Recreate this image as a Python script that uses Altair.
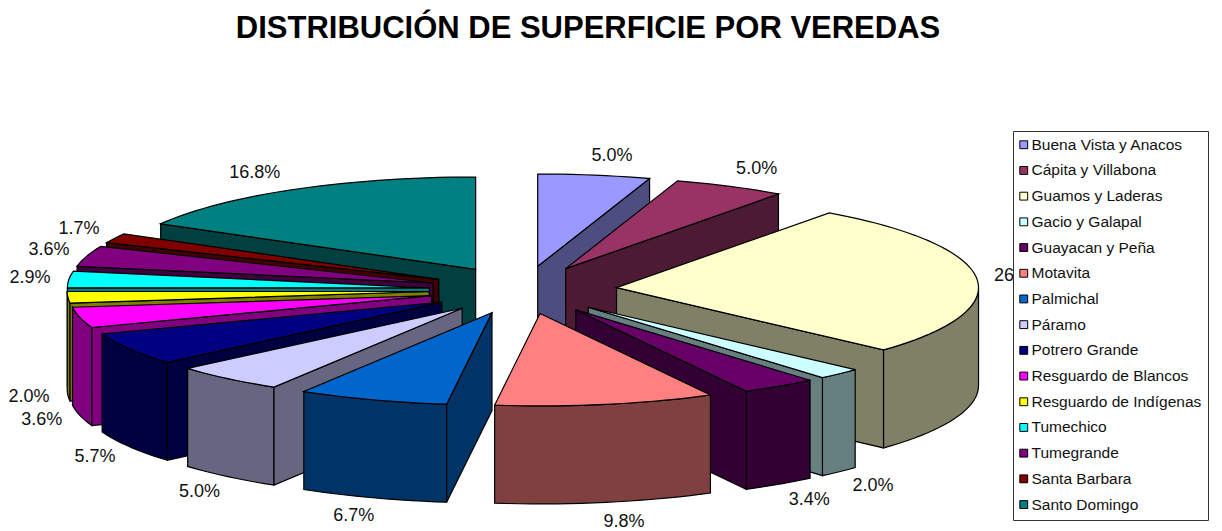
import math
import altair as alt
import pandas as pd

names = ["Buena Vista y Anacos", "Cápita y Villabona", "Guamos y Laderas", "Gacio y Galapal",
         "Guayacan y Peña", "Motavita", "Palmichal", "Páramo", "Potrero Grande",
         "Resguardo de Blancos", "Resguardo de Indígenas", "Tumechico", "Tumegrande",
         "Santa Barbara", "Santo Domingo"]
shares = [5.0, 5.0, 26.8, 2.0, 3.4, 9.8, 6.7, 5.0, 5.7, 3.6, 2.0, 2.9, 3.6, 1.7, 16.8]
top_colors = ["#9999FF", "#993366", "#FFFFCC", "#CCFFFF", "#660066", "#FF8080", "#0066CC", "#CCCCFF",
              "#000080", "#FF00FF", "#FFFF00", "#00FFFF", "#800080", "#800000", "#008080"]
side_colors = ["#4D4D80", "#4D1A33", "#808066", "#668080", "#330033", "#804040", "#003366", "#666680",
               "#000040", "#800080", "#808000", "#008080", "#400040", "#400000", "#004040"]
title_text = "DISTRIBUCIÓN DE SUPERFICIE POR VEREDAS"

# Projection of the exploded 3D pie (reference pixel space)
CX, CY, EXPLODE, R, TILT, H = 523, 290, 94, 362, 0.255, 98

def rad(a):
    return math.radians(a)

polys, labels = [], []
pid = 0
def add_poly(part, pts):
    global pid
    pid += 1
    for i, (x, y) in enumerate(pts):
        polys.append({"part": part, "poly": pid, "i": i, "x": x, "y": y})

slices = []
cum = 0.0
for n, s in zip(names, shares):
    a0, a1 = cum * 3.6, (cum + s) * 3.6
    cum += s
    slices.append((n, s, a0, a1, (a0 + a1) / 2))

def rim(ax, ay, a):
    return ax + R * math.sin(rad(a)), ay - R * TILT * math.cos(rad(a))

def arc_angles(a, b):
    steps = max(2, int((b - a) / 2) + 1)
    return [a + (b - a) * k / steps for k in range(steps + 1)]

for n, s, a0, a1, mid in sorted(slices, key=lambda t: -math.cos(rad(t[4]))):
    ax = CX + EXPLODE * math.sin(rad(mid))
    ay = CY - EXPLODE * TILT * math.cos(rad(mid))
    side = n + " (lado)"
    v0, v1 = max(a0, 90), min(a1, 270)
    if v1 > v0:
        arc = [rim(ax, ay, a) for a in arc_angles(v0, v1)]
        add_poly(side, arc + [(x, y + H) for x, y in reversed(arc)])
    if math.sin(rad(a0)) < 0:
        p = rim(ax, ay, a0)
        add_poly(side, [(ax, ay), p, (p[0], p[1] + H), (ax, ay + H)])
    if math.sin(rad(a1)) > 0:
        p = rim(ax, ay, a1)
        add_poly(side, [(ax, ay), p, (p[0], p[1] + H), (ax, ay + H)])
    add_poly(n, [(ax, ay)] + [rim(ax, ay, a) for a in arc_angles(a0, a1)])

    sn, cs = math.sin(rad(mid)), math.cos(rad(mid))
    lx = ax + (R + 30) * sn + (13 if sn > 0 else -9 - 55 * max(0, cs - 0.6))
    ly = ay - (R + 30) * TILT * cs + (H if cs < 0 else 0) - 12 * cs
    labels.append({"x": lx, "y": ly, "t": f"{s:.1f}%"})

domain = names + [n + " (lado)" for n in names]
color_range = top_colors + side_colors
X = alt.X("x:Q", scale=alt.Scale(domain=[8, 1214], nice=False, zero=False), axis=None)
Y = alt.Y("y:Q", scale=alt.Scale(domain=[531, 8], nice=False, zero=False), axis=None)
color_scale = alt.Scale(domain=domain, range=color_range)

legend = alt.Legend(
    values=names, orient="none", legendX=1005, legendY=123, title="",
    symbolType="square", symbolSize=62, symbolStrokeColor="black", symbolStrokeWidth=1,
    symbolOffset=-3, symbolOpacity=1, labelFont="Liberation Sans", labelFontSize=15.5, labelColor="#111111",
    labelLimit=300, rowPadding=8.7, strokeColor="#333333", fillColor="white",
    padding=6, zindex=1, labelOffset=0,
)

pie = alt.Chart(pd.DataFrame(polys)).mark_line(
    interpolate="linear-closed", stroke="black", strokeWidth=1.2, clip=False
).encode(
    x=X, y=Y, order="i:Q", detail="poly:N",
    fill=alt.Fill("part:N", scale=color_scale, legend=legend),
)

text = alt.Chart(pd.DataFrame(labels)).mark_text(
    font="Liberation Sans", fontSize=18, color="#111111", align="center", baseline="middle"
).encode(x=X, y=Y, text="t:N")

title = alt.Chart(pd.DataFrame({"x": [588], "y": [29], "t": [title_text]})).mark_text(
    font="Liberation Sans", fontSize=31, fontWeight="bold", color="black", align="center", baseline="middle"
).encode(x=X, y=Y, text="t:N")

chart = alt.layer(pie, text, title).properties(
    width=1206, height=523, padding=0,
    autosize=alt.AutoSizeParams(type="none"),
).configure_view(stroke=None)

chart.save("out.html", embed_options={"renderer": "svg", "actions": False})
